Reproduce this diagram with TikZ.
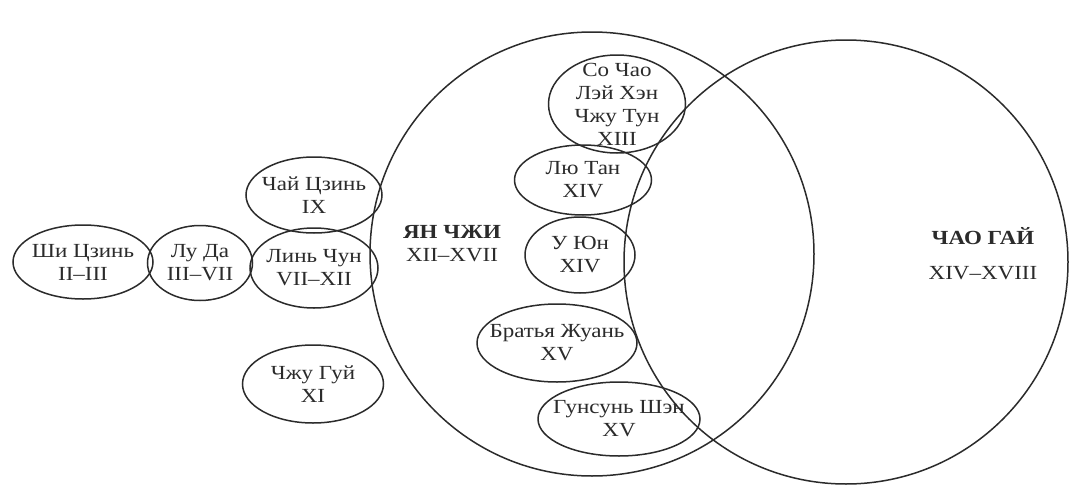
\documentclass[tikz,border=0pt]{standalone}
\usepackage{fontspec}
\setmainfont[FakeStretch=1.15]{Liberation Serif}
\usetikzlibrary{shapes.geometric}
\definecolor{ink}{HTML}{2B2B2B}
\tikzset{
  ring/.style={draw=ink, line width=1.5pt, circle, inner sep=0pt, minimum size=444pt},
  hero/.style={draw=ink, line width=1.5pt, ellipse, inner sep=0pt},
  herotext/.style={align=center, text=ink, font=\fontsize{20}{23}\selectfont},
}

\begin{document}
\begin{tikzpicture}[x=1pt,y=-1pt]
  \useasboundingbox[fill=white] (0,0) rectangle (1077,498);
  % the two camps
  \node[ring] (yanzhi) at (592,254) {};
  \node[ring] (chaogai) at (846,262) {};
  \node[herotext] (yanzhi-t) at (452,244) {{\bfseries ЯН ЧЖИ}\\XII–XVII};
  \node[herotext] (chaogai-t) at (983,254) {{\bfseries ЧАО ГАЙ}\\[12pt]XIV–XVIII};
  % chain on the left
  \node[hero,minimum width=140,minimum height=74] (shi) at (83,262) {};
  \node[hero,minimum width=105,minimum height=75] (luda) at (200,263) {};
  \node[hero,minimum width=128,minimum height=80] (linchun) at (314,268) {};
  \node[hero,minimum width=136,minimum height=76] (chaijin) at (314,195) {};
  \node[hero,minimum width=141,minimum height=78] (zhugui) at (313,384) {};
  \node[herotext] (shi-t) at (shi) {Ши Цзинь\\II–III};
  \node[herotext] (luda-t) at (luda) {Лу Да\\III–VII};
  \node[herotext] (linchun-t) at (linchun) {Линь Чун\\VII–XII};
  \node[herotext] (chaijin-t) at (chaijin) {Чай Цзинь\\IX};
  \node[herotext] (zhugui-t) at (zhugui) {Чжу Гуй\\XI};
  % inside and across the circles
  \node[hero,minimum width=137,minimum height=98] (sochao) at (617,104) {};
  \node[hero,minimum width=137,minimum height=70] (liutang) at (583,180) {};
  \node[hero,minimum width=110,minimum height=76] (uyun) at (580,255) {};
  \node[hero,minimum width=160,minimum height=78] (zhuan) at (557,343) {};
  \node[hero,minimum width=162,minimum height=74] (gunsun) at (619,419) {};
  \node[herotext] (sochao-t) at (sochao) {Со Чао\\Лэй Хэн\\Чжу Тун\\XIII};
  \node[herotext] (liutang-t) at (liutang) {Лю Тан\\XIV};
  \node[herotext] (uyun-t) at (uyun) {У Юн\\XIV};
  \node[herotext] (zhuan-t) at (zhuan) {Братья Жуань\\XV};
  \node[herotext] (gunsun-t) at (gunsun) {Гунсунь Шэн\\XV};
\end{tikzpicture}
\end{document}
